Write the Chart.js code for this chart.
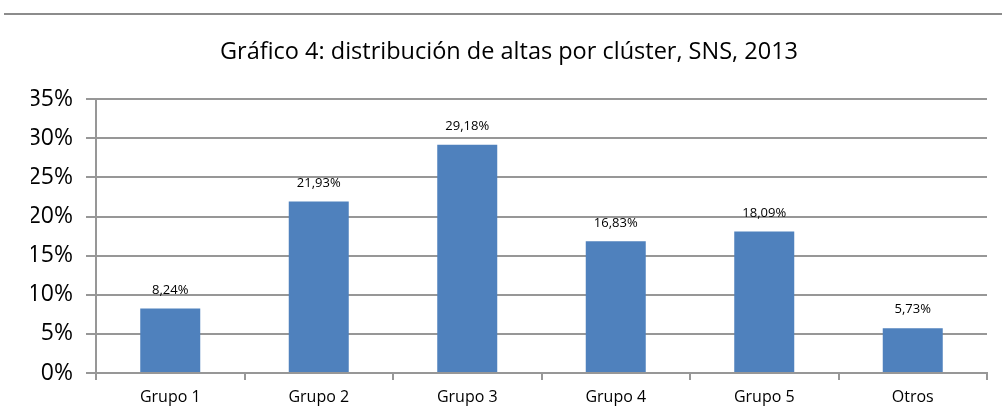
<!DOCTYPE html>
<html lang="es">
<head>
<meta charset="UTF-8">
<title>Gráfico 4</title>
<script src="https://cdn.jsdelivr.net/npm/chart.js"></script>
<style>
    body { margin: 0; background: #fff; }
    .topline { position: absolute; left: 4px; right: 0; top: 13px; height: 2px; background: #8c8c8c; }
    #wrap { position: absolute; left: 0; top: 0; width: 1002px; height: 417px; }
</style>
</head>
<body>
<div class="topline"></div>
<div id="wrap"><canvas id="chart"></canvas></div>
<script>
const categories = ['Grupo 1', 'Grupo 2', 'Grupo 3', 'Grupo 4', 'Grupo 5', 'Otros'];
const altas = [8.24, 21.93, 29.18, 16.83, 18.09, 5.73];
const yTicks = [0, 5, 10, 15, 20, 25, 30, 35];

const gridGray = '#979797';

// labels above each bar, placed from the bar elements
const barLabels = {
    id: 'barLabels',
    afterDatasetsDraw(chart) {
        const ctx = chart.ctx;
        const meta = chart.getDatasetMeta(0);
        ctx.save();
        ctx.font = '13px "Open Sans", sans-serif';
        ctx.fillStyle = '#000';
        ctx.textAlign = 'center';
        ctx.textBaseline = 'bottom';
        meta.data.forEach((bar, i) => {
            ctx.fillText(altas[i].toFixed(2).replace('.', ',') + '%', bar.x, bar.y - 12);
        });
        ctx.restore();
    }
};

new Chart(document.getElementById('chart'), {
    type: 'bar',
    data: {
        labels: categories,
        datasets: [{
            data: altas,
            backgroundColor: '#4F81BD',
            categoryPercentage: 1,
            barPercentage: 0.404
        }]
    },
    options: {
        responsive: true,
        maintainAspectRatio: false,
        animation: false,
        layout: { padding: { left: 31, right: 15, top: 0, bottom: 0 } },
        plugins: {
            legend: { display: false },
            tooltip: { enabled: false },
            title: {
                display: true,
                text: 'Gráfico 4: distribución de altas por clúster, SNS, 2013',
                color: '#000',
                font: { family: '"Open Sans", sans-serif', size: 23.5, weight: 'normal' },
                padding: { top: 38, bottom: 33 }
            }
        },
        scales: {
            x: {
                grid: { drawOnChartArea: false, drawTicks: true, tickLength: 7, color: gridGray, lineWidth: 2 },
                border: { color: gridGray, width: 2 },
                ticks: { color: '#000', font: { family: '"Open Sans", sans-serif', size: 16 }, padding: 8 },
                afterFit(scale) { scale.height = 44; }
            },
            y: {
                min: 0,
                max: 35,
                afterBuildTicks(scale) { scale.ticks = yTicks.map(v => ({ value: v })); },
                grid: { color: gridGray, lineWidth: 2, tickLength: 10 },
                border: { color: gridGray, width: 2 },
                ticks: {
                    color: '#000',
                    font: { family: '"Open Sans", sans-serif', size: 23 },
                    padding: 13,
                    callback: v => v + '%'
                },
                afterFit(scale) { scale.width = 65; }
            }
        }
    },
    plugins: [barLabels]
});
</script>
</body>
</html>
